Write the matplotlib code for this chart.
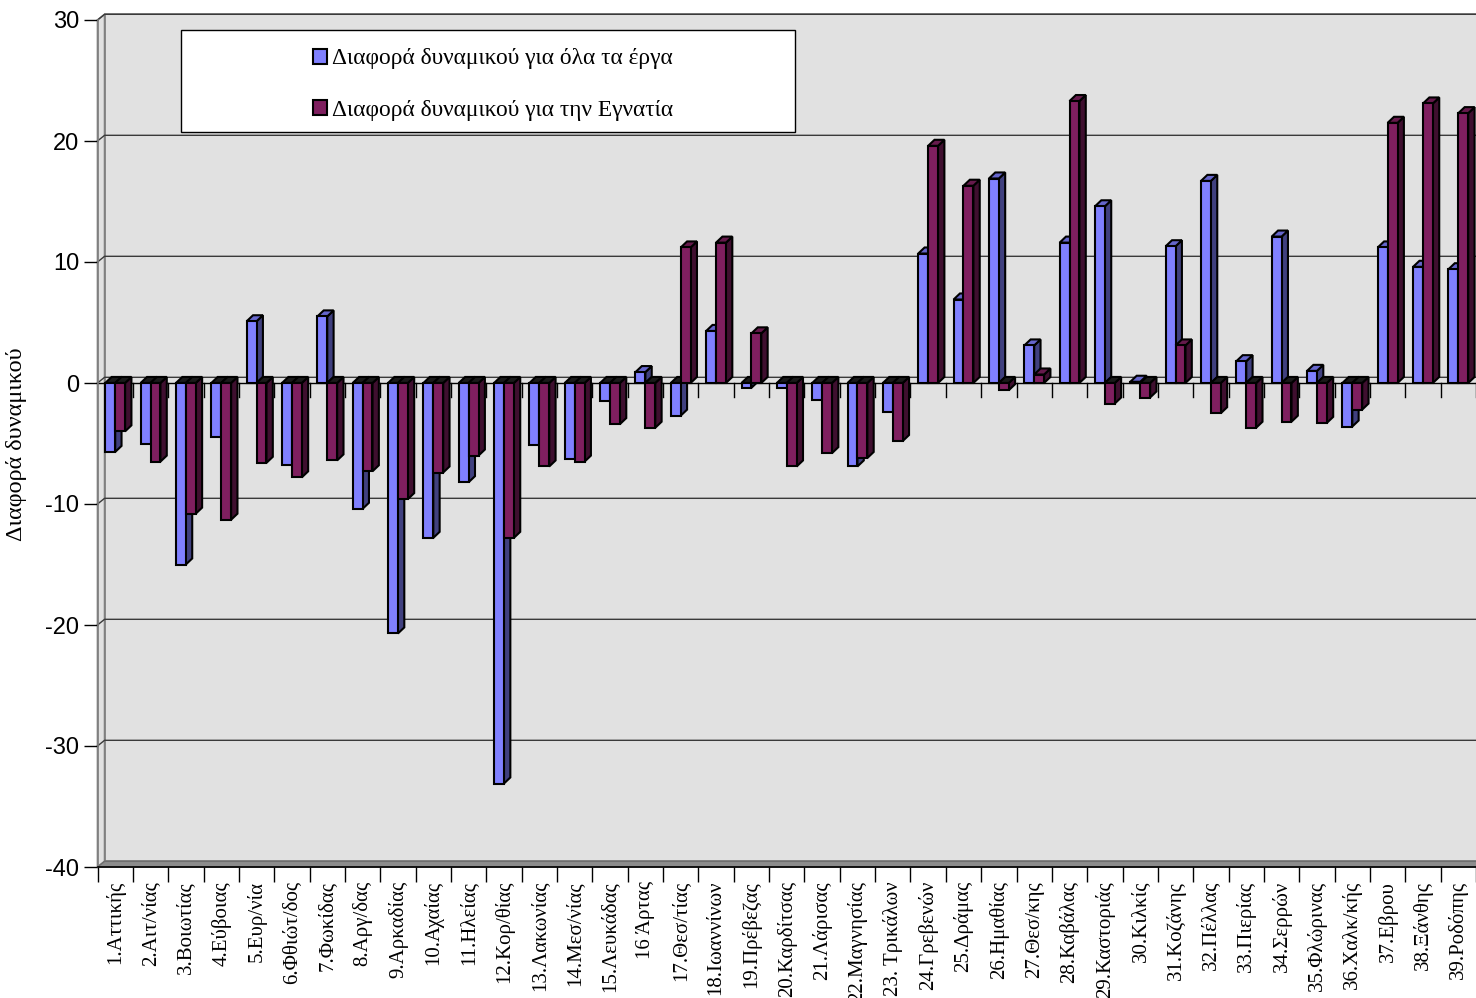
import numpy as np
import matplotlib
matplotlib.use("Agg")
import matplotlib.pyplot as plt
from matplotlib.patches import Polygon, Rectangle, Patch

categories = ['1.Αττικής', '2.Αιτ/νίας', '3.Βοιωτίας', '4.Εύβοιας', '5.Ευρ/νία',
              '6.Φθιώτ/δος', '7.Φωκίδας', '8.Αργ/δας', '9.Αρκαδίας', '10.Αχαίας',
              '11.Ηλείας', '12.Κορ/θίας', '13.Λακωνίας', '14.Μεσ/νίας', '15.Λευκάδας',
              '16 Άρτας', '17.Θεσ/τίας', '18.Ιωαννίνων', '19.Πρέβεζας', '20.Καρδίτσας',
              '21.Λάρισας', '22.Μαγνησίας', '23. Τρικάλων', '24.Γρεβενών', '25.Δράμας',
              '26.Ημαθίας', '27.Θεσ/κης', '28.Καβάλας', '29.Καστοριάς', '30.Κιλκίς',
              '31.Κοζάνης', '32.Πέλλας', '33.Πιερίας', '34.Σερρών', '35.Φλώρινας',
              '36.Χαλκ/κής', '37.Εβρου', '38.Ξάνθης', '39.Ροδόπης']
all_works = [-5.7, -5.0, -15.0, -4.5, 5.1, -6.8, 5.5, -10.4, -20.7, -12.8,
             -8.2, -33.1, -5.1, -6.3, -1.5, 0.9, -2.7, 4.3, -0.4, -0.4,
             -1.4, -6.9, -2.4, 10.7, 6.9, 16.9, 3.1, 11.6, 14.6, 0.1,
             11.3, 16.7, 1.8, 12.1, 1.0, -3.6, 11.2, 9.6, 9.4]
egnatia = [-4.0, -6.5, -10.8, -11.3, -6.6, -7.8, -6.4, -7.3, -9.6, -7.4,
           -6.0, -12.8, -6.9, -6.5, -3.4, -3.7, 11.2, 11.6, 4.1, -6.9,
           -5.8, -6.2, -4.8, 19.6, 16.3, -0.6, 0.7, 23.3, -1.7, -1.2,
           3.1, -2.5, -3.7, -3.2, -3.3, -2.2, 21.5, 23.1, 22.3]
labels = ['Διαφορά δυναμικού για όλα τα έργα', 'Διαφορά δυναμικού για την Εγνατία']
yticks = [-40, -30, -20, -10, 0, 10, 20, 30]

# colours: front, side, top
BLUE = ("#8080ff", "#40407f", "#6666cc")
MAROON = ("#7f1f5f", "#3f0f2f", "#661a4c")
WALL, FLOOR, GRID = "#e1e1e1", "#8c8c8c", "#3a3a3a"

W, H = 1476, 998
fig = plt.figure(figsize=(W / 100, H / 100), dpi=100)
x_left, x_right, y_top, y_bot = 97.5, 1476, 20, 867
ax = fig.add_axes([x_left / W, 1 - y_bot / H, (x_right - x_left) / W, (y_bot - y_top) / H])
pitch = 35.49
ax.set_xlim(-0.5, -0.5 + (x_right - x_left) / pitch)
ax.set_ylim(-40, 30)
ax.set_facecolor("white")

n = len(categories)
xmax = ax.get_xlim()[1]
dxw, dyw = 0.2, 0.47      # wall depth
dxb, dyb = 0.18, 0.5      # bar depth

# back wall, side wall, floor
ax.add_patch(Polygon([(-0.5 + dxw, -40 + dyw), (xmax + 1, -40 + dyw), (xmax + 1, 30 + dyw), (-0.5 + dxw, 30 + dyw)],
                     closed=True, fc=WALL, ec="#808080", lw=1.2, zorder=0, clip_on=False))
ax.add_patch(Polygon([(-0.5, -40), (-0.5, 30), (-0.5 + dxw, 30 + dyw), (-0.5 + dxw, -40 + dyw)],
                     closed=True, fc=WALL, ec="#808080", lw=1.2, zorder=0, clip_on=False))
ax.add_patch(Polygon([(-0.5, -40), (-0.5 + dxw, -40 + dyw), (xmax + 1, -40 + dyw), (xmax + 1, -40)],
                     closed=True, fc=FLOOR, ec="#6e6e6e", lw=1, zorder=0.6, clip_on=False))
for v in yticks[1:]:
    ax.plot([-0.5, -0.5 + dxw, xmax + 1], [v, v + dyw, v + dyw], color=GRID, lw=1, zorder=0.5, clip_on=False)

# category axis at zero with small ticks
ax.axhline(0, color="black", lw=1, zorder=1)
for b in np.arange(n) + 0.5:
    ax.plot([b, b], [0, -1.15], color="black", lw=1, zorder=1)


def bar3d(x0, w, v, cols):
    front, side, top = cols
    kw = dict(closed=True, ec="black", lw=1.5, zorder=2)
    ax.add_patch(Polygon([(x0 + w, 0), (x0 + w + dxb, dyb), (x0 + w + dxb, v + dyb), (x0 + w, v)], fc=side, **kw))
    ytop = max(v, 0)
    ax.add_patch(Polygon([(x0, ytop), (x0 + dxb, ytop + dyb), (x0 + w + dxb, ytop + dyb), (x0 + w, ytop)],
                         fc=top if v > 0 else "#1a1a1a", **kw))
    ax.add_patch(Polygon([(x0, 0), (x0 + w, 0), (x0 + w, v), (x0, v)], fc=front, **kw))


bw = 0.28
for i in range(n):
    bar3d(i - bw, bw, all_works[i], BLUE)
    bar3d(i, bw, egnatia[i], MAROON)

# axes styling
for s in ["top", "right"]:
    ax.spines[s].set_visible(False)
ax.spines["left"].set_color("#808080")
ax.spines["left"].set_linewidth(1.2)
ax.spines["bottom"].set_color("black")
ax.spines["bottom"].set_linewidth(1.2)
ax.spines["bottom"].set_zorder(3)

ax.set_yticks(yticks)
ax.set_yticklabels([str(v) for v in yticks], fontsize=17, family="Liberation Sans")
ax.tick_params(axis="y", length=10, width=1, pad=3)

ax.set_xticks(np.arange(-0.5, n, 1.0))
ax.set_xticklabels([])
ax.tick_params(axis="x", which="major", length=11, width=1)
ax.set_xticks(np.arange(n), minor=True)
ax.set_xticklabels(categories, minor=True, rotation=90, fontsize=15, family="Liberation Serif", va="top")
ax.tick_params(axis="x", which="minor", length=0, pad=10)

ax.set_ylabel("Διαφορά δυναμικού", fontsize=17.4, family="Liberation Serif")
ax.yaxis.set_label_coords(-0.0511, 0.4988)

# legend box
lx0, ly0, lx1, ly1 = 181, 30, 795, 132
fig.patches.append(Rectangle((lx0 / W, 1 - ly1 / H), (lx1 - lx0) / W, (ly1 - ly0) / H,
                             transform=fig.transFigure, fc="white", ec="black", lw=1, zorder=5))
handles = [Patch(fc=BLUE[0], ec="black", lw=1.5), Patch(fc=MAROON[0], ec="black", lw=1.5)]
leg = fig.legend(handles, labels, loc="center",
                 bbox_to_anchor=(493 / W, 1 - 84.5 / H),
                 frameon=False, prop={"family": "Liberation Serif", "size": 16.8},
                 handlelength=0.6, handleheight=0.6, handletextpad=0.25, labelspacing=1.3)
leg.set_zorder(6)

fig.savefig("out.png", dpi=100)
